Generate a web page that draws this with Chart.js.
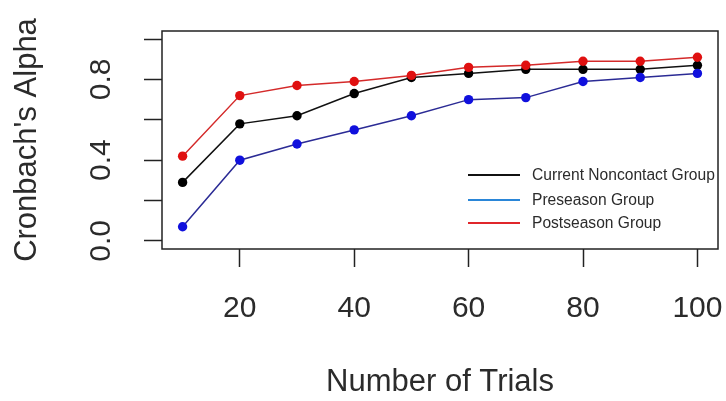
<!DOCTYPE html>
<html>
<head>
<meta charset="utf-8">
<script src="https://cdn.jsdelivr.net/npm/chart.js@4/dist/chart.umd.min.js"></script>
<style>
  html, body { margin: 0; padding: 0; background: #ffffff; }
  #wrap { width: 726px; height: 401px; }
</style>
</head>
<body>
<div id="wrap"><canvas id="chart" width="726" height="401"></canvas></div>
<script>
var trials = [10, 20, 30, 40, 50, 60, 70, 80, 90, 100];
var currentGroup = [0.29, 0.58, 0.62, 0.73, 0.81, 0.83, 0.85, 0.85, 0.85, 0.87];
var preseasonGroup = [0.07, 0.40, 0.48, 0.55, 0.62, 0.70, 0.71, 0.79, 0.81, 0.83];
var postseasonGroup = [0.42, 0.72, 0.77, 0.79, 0.82, 0.86, 0.87, 0.89, 0.89, 0.91];
var xTicks = [20, 40, 60, 80, 100];
var yTicks = [0, 0.2, 0.4, 0.6, 0.8, 1.0];
var yLabelled = [0, 0.4, 0.8];
var legendNames = ["Current Noncontact Group", "Preseason Group", "Postseason Group"];
var legendColors = ["#111111", "#2a86d8", "#e0262b"];

var FONT = "'Liberation Sans', Arial, sans-serif";
var TEXT = "#2b2b2b";

function toPoints(ys) {
    var pts = [];
    for (var i = 0; i < trials.length; i++) {
        pts.push({ x: trials[i], y: ys[i] });
    }
    return pts;
}

function series(label, ys, lineColor, dotColor) {
    return {
        label: label,
        data: toPoints(ys),
        borderColor: lineColor,
        backgroundColor: dotColor,
        borderWidth: 1.5,
        pointRadius: 4.7,
        pointBorderWidth: 0,
        pointBackgroundColor: dotColor,
        tension: 0
    };
}

// box round the plot, like R's box()
var boxPlugin = {
    id: "box",
    afterDraw: function (chart) {
        var a = chart.chartArea;
        var ctx = chart.ctx;
        ctx.save();
        ctx.strokeStyle = "#222";
        ctx.lineWidth = 1.5;
        ctx.strokeRect(a.left, a.top, a.right - a.left, a.bottom - a.top);
        ctx.restore();
    }
};

// legend sits inside the plot without a frame
var legendPlugin = {
    id: "innerLegend",
    afterDraw: function (chart) {
        var ctx = chart.ctx;
        var rows = [175, 200, 223];
        ctx.save();
        ctx.font = "15.6px " + FONT;
        ctx.textBaseline = "middle";
        ctx.textAlign = "left";
        for (var i = 0; i < legendNames.length; i++) {
            ctx.strokeStyle = legendColors[i];
            ctx.lineWidth = 2;
            ctx.beginPath();
            ctx.moveTo(468, rows[i]);
            ctx.lineTo(520, rows[i]);
            ctx.stroke();
            ctx.fillStyle = TEXT;
            ctx.fillText(legendNames[i], 532, rows[i] + 1);
        }
        ctx.restore();
    }
};

new Chart(document.getElementById("chart"), {
    type: "line",
    data: {
        datasets: [
            series("Postseason Group", postseasonGroup, "#d42a2a", "#e01010"),
            series("Preseason Group", preseasonGroup, "#2b2b95", "#1010dd"),
            series("Current Noncontact Group", currentGroup, "#111111", "#000000")
        ]
    },
    options: {
        responsive: false,
        animation: false,
        layout: { padding: { top: 31, right: 8, left: 0, bottom: 0 } },
        plugins: {
            legend: { display: false },
            tooltip: { enabled: false }
        },
        scales: {
            x: {
                type: "linear",
                min: 6.4,
                max: 103.6,
                afterBuildTicks: function (scale) {
                    scale.ticks = xTicks.map(function (v) { return { value: v }; });
                },
                afterFit: function (scale) {
                    scale.height = 152;
                    scale.paddingLeft = 0;
                    scale.paddingRight = 0;
                },
                border: { display: false },
                grid: {
                    drawOnChartArea: false,
                    drawTicks: true,
                    tickLength: 18,
                    tickColor: "#222",
                    tickWidth: 1.5
                },
                ticks: {
                    color: TEXT,
                    padding: 24,
                    maxRotation: 0,
                    autoSkip: false,
                    font: { family: FONT, size: 30 },
                    callback: function (v) { return String(v); }
                },
                title: {
                    display: true,
                    text: "Number of Trials",
                    color: TEXT,
                    font: { family: FONT, size: 31 },
                    padding: { top: 0, bottom: 0 }
                }
            },
            y: {
                min: -0.04,
                max: 1.04,
                afterBuildTicks: function (scale) {
                    scale.ticks = yTicks.map(function (v) { return { value: v }; });
                },
                afterFit: function (scale) {
                    scale.width = 162;
                    scale.paddingTop = 0;
                    scale.paddingBottom = 0;
                },
                border: { display: false },
                grid: {
                    drawOnChartArea: false,
                    drawTicks: true,
                    tickLength: 18,
                    tickColor: "#222",
                    tickWidth: 1.5
                },
                ticks: {
                    color: TEXT,
                    padding: 21,
                    minRotation: 90,
                    maxRotation: 90,
                    crossAlign: "center",
                    autoSkip: false,
                    font: { family: FONT, size: 30 },
                    callback: function (v) {
                        for (var i = 0; i < yLabelled.length; i++) {
                            if (Math.abs(v - yLabelled[i]) < 1e-6) return v.toFixed(1);
                        }
                        return "";
                    }
                },
                title: {
                    display: true,
                    text: "Cronbach's Alpha",
                    color: TEXT,
                    font: { family: FONT, size: 31 },
                    padding: { top: 9, bottom: 0 }
                }
            }
        }
    },
    plugins: [boxPlugin, legendPlugin]
});
</script>
</body>
</html>
